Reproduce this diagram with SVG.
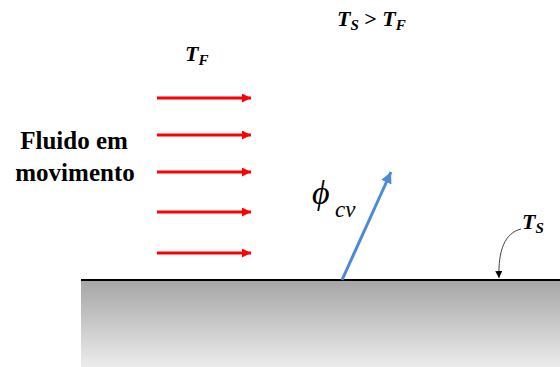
<svg xmlns="http://www.w3.org/2000/svg" width="560" height="367" viewBox="0 0 560 367">
<style>
.red{stroke:#ff0000;stroke-width:3;fill:none}
</style>
<defs>
<linearGradient id="g" x1="0" y1="0" x2="0" y2="1">
<stop offset="0" stop-color="#a5a5a5"/>
<stop offset="1" stop-color="#ececec"/>
</linearGradient>
<marker id="rh" viewBox="0 0 10 10" refX="10" refY="5" markerWidth="3.6" markerHeight="3" orient="auto" markerUnits="strokeWidth"><path d="M0,0 L10,5 L0,10 Z" fill="#ff0000"/></marker>
<marker id="bh" viewBox="0 0 10 10" refX="10" refY="5" markerWidth="4" markerHeight="3.7" orient="auto" markerUnits="strokeWidth"><path d="M0,0 L10,5 L0,10 Z" fill="#4a8ad6"/></marker>
<marker id="kh" viewBox="0 0 10 10" refX="10" refY="5" markerWidth="7" markerHeight="7" orient="auto" markerUnits="strokeWidth"><path d="M0,0 L10,5 L0,10 Z" fill="#000"/></marker>
</defs>
<g id="plate">
<rect x="81" y="280" width="479" height="87" fill="url(#g)"/>
<line x1="81" y1="280" x2="560" y2="280" stroke="#000" stroke-width="2"/>
</g>
<g id="title"><text font-family="Liberation Serif" font-weight="bold" font-style="italic" x="337" y="26" font-size="22">T<tspan font-size="15" dy="4">S</tspan><tspan dy="-4" font-style="normal"> &gt; </tspan>T<tspan font-size="15" dy="4">F</tspan></text></g>
<g id="tf"><text font-family="Liberation Serif" font-weight="bold" font-style="italic" x="185" y="61" font-size="22">T<tspan font-size="15" dy="4">F</tspan></text></g>
<g id="fluid"><text font-family="Liberation Serif" font-weight="bold" font-size="25" x="74" y="149" text-anchor="middle">Fluido em</text><text font-family="Liberation Serif" font-weight="bold" font-size="25" x="75" y="181" text-anchor="middle">movimento</text></g>
<g id="connectors">
<line class="red" x1="157" y1="98" x2="251" y2="98" marker-end="url(#rh)"/>
<line class="red" x1="157" y1="135" x2="251" y2="135" marker-end="url(#rh)"/>
<line class="red" x1="157" y1="172" x2="251" y2="172" marker-end="url(#rh)"/>
<line class="red" x1="157" y1="212" x2="251" y2="212" marker-end="url(#rh)"/>
<line class="red" x1="157" y1="253" x2="251" y2="253" marker-end="url(#rh)"/>
<line x1="342" y1="280" x2="391" y2="172" stroke="#4a8ad6" stroke-width="3" marker-end="url(#bh)"/>
<path d="M521,229 C505,233 498,250 499,278" fill="none" stroke="#444" stroke-width="1" marker-end="url(#kh)"/>
</g>
<g id="phi"><text font-family="Liberation Serif" font-style="italic" x="312" y="204" font-size="34">ϕ</text><text font-family="Liberation Serif" font-style="italic" x="335" y="217" font-size="23">cv</text></g>
<g id="ts"><text font-family="Liberation Serif" font-weight="bold" font-style="italic" x="522" y="229" font-size="22">T<tspan font-size="15" dy="4">S</tspan></text></g>
</svg>
